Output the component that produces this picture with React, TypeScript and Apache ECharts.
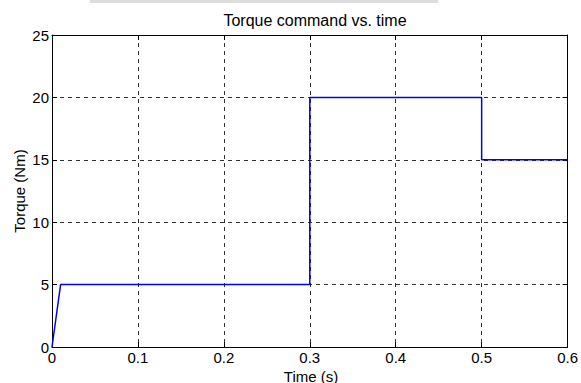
import React, { useEffect, useRef } from "react";
import * as echarts from "echarts";

const timeValues = [0, 0.01, 0.3, 0.3, 0.5, 0.5, 0.6];
const torqueValues = [0, 5, 5, 20, 20, 15, 15];
const titleText = "Torque command vs. time";
const xName = "Time (s)";
const yName = "Torque (Nm)";

export default function App() {
  const ref = useRef<HTMLDivElement>(null);
  useEffect(() => {
    if (!ref.current) return;
    const chart = echarts.init(ref.current, null, { renderer: "svg" });
    const font = "Liberation Sans, Arial, sans-serif";
    const data = timeValues.map((t, i) => [t, torqueValues[i]]);
    const gridLine = { show: true, lineStyle: { color: "#333", type: [4, 4] as any, width: 1 } };
    chart.setOption({
      animation: false,
      backgroundColor: "#fff",
      title: {
        text: titleText,
        left: 310,
        top: 7,
        textAlign: "center",
        textStyle: { fontFamily: font, fontSize: 16, fontWeight: "normal", color: "#000" },
      },
      graphic: [
        { type: "rect", shape: { x: 90, y: 0, width: 348, height: 3 }, style: { fill: "#dddddd" }, silent: true },
        {
          type: "text",
          x: 19,
          y: 191,
          rotation: Math.PI / 2,
          style: { text: yName, font: "15px " + font, fill: "#000", textAlign: "center", textVerticalAlign: "middle" },
        },
        {
          type: "text",
          x: 311,
          y: 376,
          style: { text: xName, font: "15px " + font, fill: "#000", textAlign: "center", textVerticalAlign: "middle" },
        },
      ],
      grid: { left: 52, right: 11, top: 35, bottom: 36, containLabel: false },
      xAxis: [
        {
          type: "value",
          min: 0,
          max: 0.6,
          interval: 0.1,
          axisLine: { show: true, onZero: false, lineStyle: { color: "#000", width: 1 } },
          axisTick: { show: true, inside: true, length: 5, lineStyle: { color: "#000" } },
          axisLabel: { fontFamily: font, fontSize: 15, color: "#000", margin: 3 },
          splitLine: gridLine,
        },
        {
          type: "value",
          position: "top",
          min: 0,
          max: 0.6,
          interval: 0.1,
          axisLine: { show: true, onZero: false, lineStyle: { color: "#000", width: 1 } },
          axisTick: { show: true, inside: true, length: 5, lineStyle: { color: "#000" } },
          axisLabel: { show: false },
          splitLine: { show: false },
        },
      ],
      yAxis: [
        {
          type: "value",
          min: 0,
          max: 25,
          interval: 5,
          axisLine: { show: true, onZero: false, lineStyle: { color: "#000", width: 1 } },
          axisTick: { show: true, inside: true, length: 5, lineStyle: { color: "#000" } },
          axisLabel: { fontFamily: font, fontSize: 15, color: "#000", margin: 3 },
          splitLine: gridLine,
        },
        {
          type: "value",
          position: "right",
          min: 0,
          max: 25,
          interval: 5,
          axisLine: { show: true, onZero: false, lineStyle: { color: "#000", width: 1 } },
          axisTick: { show: true, inside: true, length: 5, lineStyle: { color: "#000" } },
          axisLabel: { show: false },
          splitLine: { show: false },
        },
      ],
      series: [
        {
          type: "line",
          data,
          xAxisIndex: 0,
          yAxisIndex: 0,
          showSymbol: false,
          symbol: "none",
          lineStyle: { color: "#0000ff", width: 1.5 },
          z: 5,
        },
      ],
    });
    return () => chart.dispose();
  }, []);
  return <div ref={ref} style={{ width: 581, height: 383, position: "absolute", left: 0, top: 0 }} />;
}
